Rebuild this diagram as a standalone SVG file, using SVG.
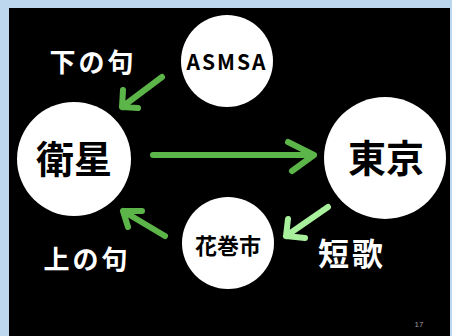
<svg xmlns="http://www.w3.org/2000/svg" width="452" height="336" viewBox="0 0 452 336">
<style>
.node{fill:#ffffff}
.lbl{font-family:"Noto Sans CJK JP","Noto Sans",sans-serif;font-weight:bold;fill:#000000;text-anchor:middle}
.wt{font-family:"Noto Sans CJK JP","Noto Sans",sans-serif;font-weight:bold;fill:#ffffff;text-anchor:middle}
.arr{fill:none;stroke-linecap:round;stroke-linejoin:round}
.g{stroke:#5cb548}
.lg{stroke:#a8f09c}
</style>
<rect x="0" y="0" width="452" height="336" fill="#bdd7ee"/>
<rect x="9" y="8" width="441" height="328" fill="#000000"/>
<g id="connectors">
  <g class="arr g" stroke-width="6">
    <path d="M162 77 L122 107 M123 90 L122 107 L138 108"/>
    <path d="M153 155 L314 155 M288 142 L314 155 L292 171"/>
    <path d="M165 236 L123 211 M142 211 L123 211 L128 227"/>
  </g>
  <g class="arr lg" stroke-width="6">
    <path d="M328 207 L286 236 M288 219 L286 236 L305 238"/>
  </g>
</g>
<g id="node-asmsa">
  <circle class="node" cx="227" cy="61" r="46"/>
  <text class="lbl" x="227" y="70" font-size="21" letter-spacing="2">ASMSA</text>
</g>
<g id="node-eisei">
  <circle class="node" cx="74" cy="159" r="57"/>
  <text class="lbl" x="74" y="173" font-size="38">衛星</text>
</g>
<g id="node-tokyo">
  <circle class="node" cx="385" cy="158" r="61"/>
  <text class="lbl" x="386" y="172" font-size="38">東京</text>
</g>
<g id="node-hanamaki">
  <circle class="node" cx="228" cy="243" r="46"/>
  <text class="lbl" x="228" y="254" font-size="22">花巻市</text>
</g>
<g id="labels">
  <text class="wt" x="93" y="72" font-size="26" letter-spacing="3">下の句</text>
  <text class="wt" x="87" y="269" font-size="26" letter-spacing="3">上の句</text>
  <text class="wt" x="352" y="265" font-size="31" letter-spacing="3">短歌</text>
  <text x="419" y="327" font-family="Liberation Sans,sans-serif" font-size="8" fill="#9a9a9a" text-anchor="middle">17</text>
</g>
</svg>
